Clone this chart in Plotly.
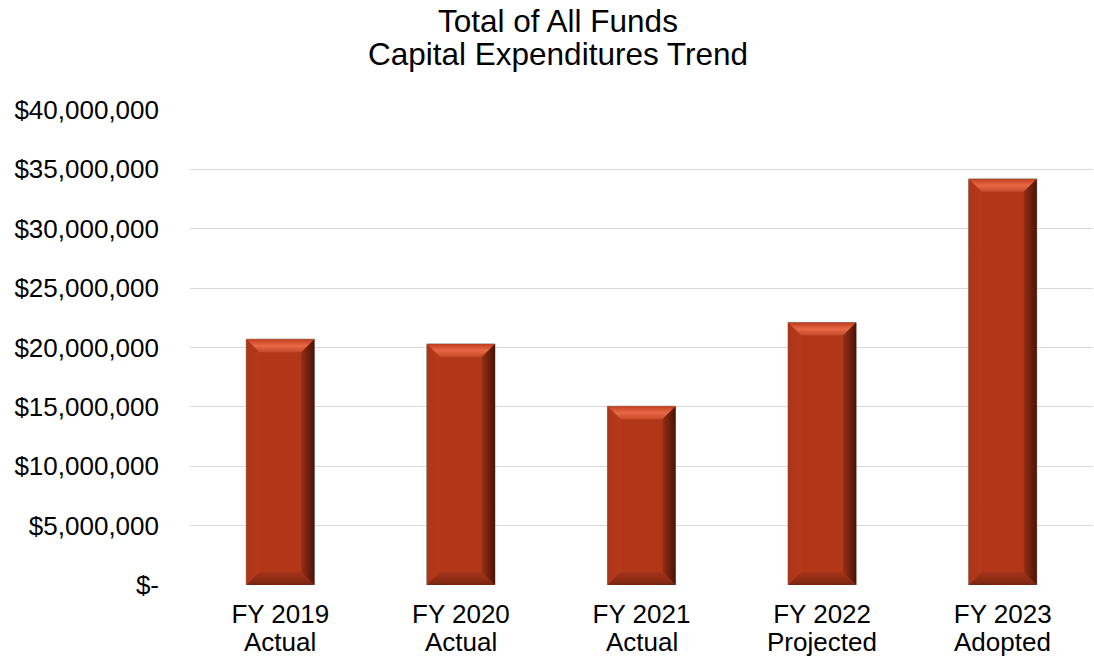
import plotly.graph_objects as go

# Capital expenditures, total of all funds
fiscal_years = ["FY 2019", "FY 2020", "FY 2021", "FY 2022", "FY 2023"]
statuses = ["Actual", "Actual", "Actual", "Projected", "Adopted"]
expenditures = [20700000, 20300000, 15050000, 22100000, 34200000]

tick_values = [0, 5000000, 10000000, 15000000, 20000000, 25000000,
               30000000, 35000000, 40000000]
tick_labels = ["$-", "$5,000,000", "$10,000,000", "$15,000,000", "$20,000,000",
               "$25,000,000", "$30,000,000", "$35,000,000", "$40,000,000"]

W, H = 1094, 662
M_L, M_R, M_T, M_B = 190, 1, 110, 77
Y_MAX = 40000000
BAR_W = 0.377

plot_w = W - M_L - M_R
plot_h = H - M_T - M_B
x_per_px = len(fiscal_years) / plot_w
y_per_px = Y_MAX / plot_h

BODY = "rgb(178,55,24)"
FONT = "Liberation Sans, Arial, sans-serif"

xs = list(range(len(fiscal_years)))

fig = go.Figure()
fig.add_trace(go.Bar(
    x=xs, y=expenditures, width=BAR_W,
    marker=dict(color=BODY, line=dict(color="rgb(150,140,135)", width=1)),
    hoverinfo="skip", showlegend=False,
))

# Bevelled faces drawn over each bar
bev = 13
for x, v in zip(xs, expenditures):
    x0, x1 = x - BAR_W / 2, x + BAR_W / 2
    dx, dy = bev * x_per_px, bev * y_per_px
    faces = [
        # top
        ([x0, x1, x1 - dx, x0 + dx, x0], [v, v, v - dy, v - dy, v],
         "vertical", [[0, "rgb(196,72,40)"], [0.5, "rgb(232,104,70)"], [1, "rgb(190,62,30)"]]),
        # bottom
        ([x0, x1, x1 - dx, x0 + dx, x0], [0, 0, dy, dy, 0],
         "vertical", [[0, "rgb(120,38,18)"], [0.6, "rgb(150,46,22)"], [1, "rgb(165,52,24)"]]),
        # left
        ([x0, x0 + dx, x0 + dx, x0, x0], [v, v - dy, dy, 0, v],
         "horizontal", [[0, "rgb(172,53,24)"], [1, "rgb(182,57,26)"]]),
        # right
        ([x1, x1 - dx, x1 - dx, x1, x1], [v, v - dy, dy, 0, v],
         "horizontal", [[0, "rgb(150,46,20)"], [0.6, "rgb(105,30,12)"], [1, "rgb(70,20,8)"]]),
    ]
    for fx, fy, gtype, cs in faces:
        fig.add_trace(go.Scatter(
            x=fx, y=fy, mode="lines", fill="toself",
            fillgradient=dict(type=gtype, colorscale=cs),
            line=dict(width=0), hoverinfo="skip", showlegend=False,
        ))

title_x = (558 - M_L) / plot_w
fig.add_annotation(text="Total of All Funds", x=title_x, y=1.229,
                   xref="paper", yref="paper", showarrow=False,
                   font=dict(size=31.5, color="#000000", family=FONT))
fig.add_annotation(text="Capital Expenditures Trend", x=title_x, y=1.159,
                   xref="paper", yref="paper", showarrow=False,
                   font=dict(size=31.5, color="#000000", family=FONT))

# Second line of each category label
for x, s in zip(xs, statuses):
    fig.add_annotation(text=s, x=x, y=-0.121, xref="x", yref="paper",
                       showarrow=False, yanchor="middle",
                       font=dict(size=26, color="#000000", family=FONT))

fig.update_layout(
    width=W, height=H,
    margin=dict(l=M_L, r=M_R, t=M_T, b=M_B, pad=0),
    paper_bgcolor="white", plot_bgcolor="white",
    font=dict(family=FONT, color="#000000", size=26),
)
fig.update_xaxes(
    range=[-0.5, len(fiscal_years) - 0.5], tickmode="array",
    tickvals=xs, ticktext=fiscal_years, showgrid=False, zeroline=False,
    showline=False, ticks="", tickfont=dict(size=26), ticklabelstandoff=11,
)
fig.update_yaxes(
    range=[0, Y_MAX], tickmode="array", tickvals=tick_values, ticktext=tick_labels,
    showgrid=True, gridcolor="#D9D9D9", gridwidth=1, zeroline=False,
    showline=False, ticks="", tickfont=dict(size=26), ticklabelstandoff=30,
)

fig.write_html("out.html")
